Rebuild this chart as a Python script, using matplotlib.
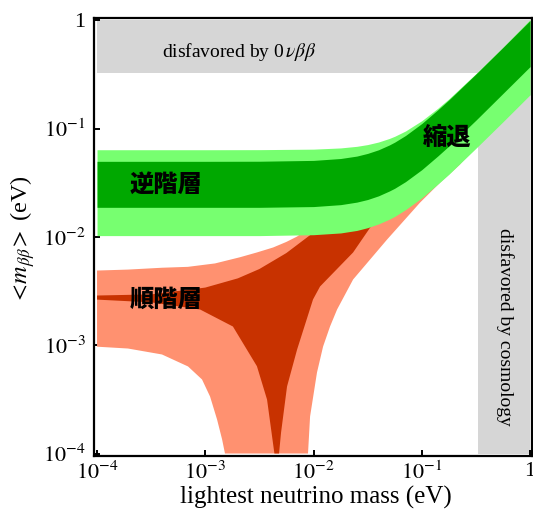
import matplotlib
matplotlib.use("Agg")
import matplotlib.pyplot as plt
import numpy as np

# ---------------- data (eV) ----------------
# Inverted hierarchy (green)
ih_x = [1e-4, 1e-3, 3.16e-3, 1e-2, 1.78e-2, 2.51e-2, 3.16e-2, 3.98e-2, 5.01e-2,
        5.62e-2, 7.08e-2, 0.1, 0.141, 0.178, 0.316, 0.562, 1.0]
ih_dark_hi = [0.0500, 0.0500, 0.0501, 0.0510, 0.0531, 0.0559, 0.0592, 0.0639, 0.0708,
              0.0752, 0.0867, 0.1118, 0.150, 0.185, 0.320, 0.564, 1.0]
ih_dark_lo = [0.0188, 0.0188, 0.0188, 0.0191, 0.0199, 0.0210, 0.0222, 0.0240, 0.0266,
              0.0282, 0.0325, 0.0419, 0.0562, 0.0693, 0.120, 0.212, 0.375]
ih_light_hi = [0.0640, 0.0640, 0.0641, 0.0648, 0.0665, 0.0688, 0.0714, 0.0754, 0.0813,
               0.0852, 0.0954, 0.1187, 0.155, 0.189, 0.323, 0.566, 1.02]
ih_light_lo = [0.0103, 0.0103, 0.0103, 0.0105, 0.0109, 0.0115, 0.0122, 0.0132, 0.0146,
               0.0155, 0.0179, 0.0230, 0.0309, 0.0380, 0.0660, 0.116, 0.206]

# Normal hierarchy, light band (salmon)
nh_light_hi_x = [1e-4, 1.93e-4, 3.98e-4, 6.9e-4, 1.23e-3, 2.09e-3, 3.0e-3, 4.23e-3, 5.6e-3,
                 7.05e-3, 1e-2, 3.16e-2, 0.1, 0.316, 1.0]
nh_light_hi = [0.0049, 0.0050, 0.0052, 0.0053, 0.0057, 0.0065, 0.0072, 0.0080, 0.0090,
               0.0101, 0.013, 0.035, 0.10, 0.29, 0.93]
# lower edge, right branch (from large to small mass)
nh_light_lo_r_x = [1.0, 0.316, 0.2254, 0.1476, 0.0964, 0.0478, 0.0232, 0.0165, 0.0142,
                   0.01225, 0.01076, 0.00929, 0.00889]
nh_light_lo_r = [0.22, 0.07, 0.0468, 0.0318, 0.0208, 0.00948, 0.00405, 0.00214, 0.00149,
                 0.000973, 0.00056, 0.00022, 1e-4]
# lower edge, left branch (from small to larger mass)
nh_light_lo_l_x = [1e-4, 1.93e-4, 3.98e-4, 6.93e-4, 9.33e-4, 1.107e-3, 1.285e-3, 1.43e-3, 1.52e-3]
nh_light_lo_l = [0.00097, 0.000933, 0.000822, 0.000637, 0.000483, 0.000336, 0.000206,
                 0.000135, 1e-4]

# Normal hierarchy, best-fit band (dark red)
nh_dark_hi_x = [1e-4, 3.16e-4, 1e-3, 2e-3, 3.16e-3, 5.6e-3, 1e-2, 1.78e-2, 0.0316, 0.1, 0.316, 1.0]
nh_dark_hi = [0.00288, 0.00295, 0.00341, 0.00415, 0.00506, 0.0071, 0.0110, 0.0184, 0.030,
              0.095, 0.29, 0.93]
nh_dark_lo_x = [1.0, 0.316, 0.1, 0.0333, 0.0232, 0.01148, 0.00989, 0.00705, 0.00569,
                0.00501, 0.0048, 0.00435, 0.00372, 0.0030, 0.0018, 0.000895, 3.16e-4, 1e-4]
nh_dark_lo = [0.375, 0.12, 0.038, 0.0122, 0.0072, 0.00349, 0.00265, 0.000914, 0.000416,
              0.000156, 1e-4, 1e-4, 0.000315, 0.00064, 0.00149, 0.00214, 0.00249, 0.00264]

# excluded regions
bb_lim = [0.33, 1.0]          # 0vbb bound (y range)
cosmo_lim = [0.33, 1.0]       # cosmology bound (x range)
cosmo_ytop = 0.25

xticks = [1e-4, 1e-3, 1e-2, 1e-1, 1]
xticklabels = [r'$10^{-4}$', r'$10^{-3}$', r'$10^{-2}$', r'$10^{-1}$', '1']
yticks = [1e-4, 1e-3, 1e-2, 1e-1, 1]
yticklabels = [r'$10^{-4}$', r'$10^{-3}$', r'$10^{-2}$', r'$10^{-1}$', '1']

# ---------------- style ----------------
plt.rcParams['font.family'] = ['Liberation Serif', 'DejaVu Serif']
plt.rcParams['mathtext.fontset'] = 'stix'

W, H = 533, 512
fig = plt.figure(figsize=(W / 100, H / 100), dpi=100)
L, R, T, B = 94, 532, 18, 456
ax = fig.add_axes([L / W, 1 - B / H, (R - L) / W, (B - T) / H])
ax.set_xscale('log')
ax.set_yscale('log')
ax.set_xlim(10 ** -4.028, 10 ** 0.018)
ax.set_ylim(10 ** -4.023, 10 ** 0.023)

c_gray = '#d6d6d6'
c_salmon = '#ff9170'
c_darkred = '#c83200'
c_lgreen = '#77ff70'
c_dgreen = '#00a800'

# gray excluded areas
ax.fill_between([1e-4, 1.0], [bb_lim[0]] * 2, [bb_lim[1]] * 2, color=c_gray, lw=0, zorder=1)
ax.fill_between(cosmo_lim, [1e-4] * 2, [cosmo_ytop] * 2, color=c_gray, lw=0, zorder=1)

# NH light polygon
px = list(nh_light_hi_x) + list(nh_light_lo_r_x) + list(nh_light_lo_l_x[::-1])
py = list(nh_light_hi) + list(nh_light_lo_r) + list(nh_light_lo_l[::-1])
ax.fill(px, py, color=c_salmon, lw=0, zorder=2)

# NH dark polygon
px = list(nh_dark_hi_x) + list(nh_dark_lo_x)
py = list(nh_dark_hi) + list(nh_dark_lo)
ax.fill(px, py, color=c_darkred, lw=0, zorder=3)

# IH bands
ax.fill_between(ih_x, ih_light_lo, ih_light_hi, color=c_lgreen, lw=0, zorder=4)
ax.fill_between(ih_x, ih_dark_lo, ih_dark_hi, color=c_dgreen, lw=0, zorder=5)

# axes styling
for s in ax.spines.values():
    s.set_linewidth(1.6)
    s.set_zorder(10)
ax.set_xticks(xticks)
ax.set_xticklabels(xticklabels)
ax.set_yticks(yticks)
ax.set_yticklabels(yticklabels)
ax.minorticks_off()
ax.tick_params(which='major', direction='in', length=4, width=1.4, labelsize=16, pad=4)
ax.tick_params(axis='y', pad=6)

def fx(p):
    return p / W

def fy(p):
    return 1 - p / H

cjk = ['Noto Sans CJK JP', 'DejaVu Sans']
fig.text(fx(166.5), fy(185), '逆階層', family=cjk, fontweight='heavy', fontsize=17.5,
         ha='center', va='center', zorder=20)
fig.text(fx(166.5), fy(300), '順階層', family=cjk, fontweight='heavy', fontsize=17.5,
         ha='center', va='center', zorder=20)
fig.text(fx(447.5), fy(138), '縮退', family=cjk, fontweight='heavy', fontsize=17.5,
         ha='center', va='center', zorder=20)

fig.text(fx(239), fy(52), r'disfavored by 0$\,\nu\beta\beta$', fontsize=14,
         ha='center', va='center')
fig.text(fx(505), fy(327), 'disfavored by cosmology', fontsize=14, rotation=-90,
         ha='center', va='center')

fig.text(fx(316), fy(497), 'lightest neutrino mass (eV)', fontsize=18,
         ha='center', va='center')
fig.text(fx(23), fy(240), r'$<\!m_{\beta\beta}\!>$ (eV)', fontsize=17.5, rotation=90,
         ha='center', va='center')

fig.savefig('out.png', dpi=100)
